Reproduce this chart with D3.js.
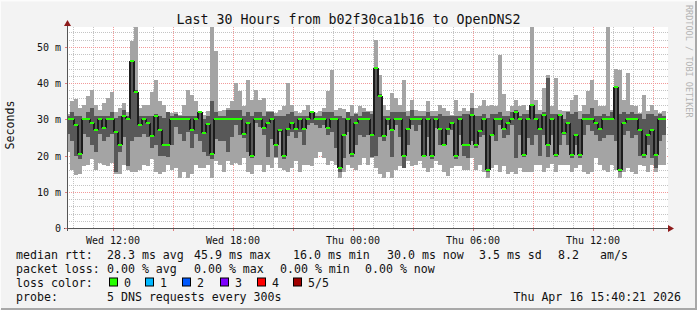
<!DOCTYPE html>
<html lang="en">
<head>
<meta charset="UTF-8">
<title>Last 30 Hours from b02f30ca1b16 to OpenDNS2</title>
<script src="https://d3js.org/d3.v7.min.js"></script>
<style>
    body { margin: 0; background: #fff; }
    svg { display: block; font-family: "DejaVu Sans Mono", monospace; }
    .legend text { font-size: 11.6px; fill: #111; }
    .tick-label { font-size: 10px; fill: #111; }
</style>
</head>
<body>
<svg id="chart" width="697" height="310"></svg>
<script>
// ---- data: 5 sorted DNS round trips per 12 min slot (ms) ----
const pMax = [
  31.5, 35, 35.5, 33, 34, 36.5, 38, 34, 32.5, 34.5, 36, 37.5, 32, 33, 34.5, 32, 51.5, 55.5, 33, 34, 34, 37.5, 41, 35, 34,
  32, 31.8, 32, 31.3, 34, 38, 36.6, 35, 32, 31.3, 32.2, 55.5, 48.8, 32.2, 32.7, 33, 35, 40, 37.7, 33.6, 41, 35.4, 38.1, 35.4, 35.9,
  32.2, 32.2, 31.8, 32.7, 33.6, 40, 34, 32.2, 31.8, 32.7, 34, 32.4, 31.8, 32.2, 33, 37.7, 43.7, 32.7, 33, 32.9, 32, 34, 31.8, 33.6, 33,
  32.2, 32.2, 52, 42.3, 34, 32.7, 37.3, 36, 34, 41, 32.2, 35.4, 32.7, 32.2, 32.4, 35, 32.2, 32.4, 34, 33, 32.4, 31.3, 35.4, 32.2, 33,
  32.2, 37.3, 33, 33.6, 35.4, 33.6, 34, 33.6, 47.9, 37, 32.2, 33.6, 35.4, 33.6, 34, 32.7, 55.5, 35.4, 32.7, 38.6, 42.3, 33.6, 41.4, 32.7, 32.2,
  32.2, 35.4, 36.8, 32.2, 34, 37.7, 41, 35.4, 33.6, 33.6, 55.5, 32.7, 44, 43.7, 35.4, 42.8, 34, 33.6, 31.8, 36.8, 32.2, 34, 32.7, 31.8, 32.2
];
const pHigh = [
  31, 32, 31, 31, 30.5, 32, 33, 31, 31, 31, 31, 32, 30.5, 31, 32.5, 31, 46, 38, 31, 31, 31, 31, 31.5, 31, 30.5,
  32, 31, 31.5, 31, 31, 31, 31, 31, 32, 30, 31, 35, 32, 31, 31, 32.5, 32.5, 32.5, 32.5, 31, 32, 31, 32, 32, 31,
  32, 32, 31, 31, 31, 31.5, 32, 31, 31, 31, 31, 32.4, 31, 31, 32, 32, 32, 31, 31, 30.5, 32, 31, 31.5, 31, 32,
  32, 31.5, 44.5, 37, 31, 31, 32, 32, 32, 32, 31, 32.5, 31, 31, 31, 32, 31, 31, 31.5, 31, 31, 31, 31, 31, 31.5,
  31.5, 33, 31, 31, 31.5, 30.5, 31.5, 31.5, 32, 31, 31, 32, 32.5, 31, 31.5, 31.5, 34, 31.5, 31.5, 32, 41.4, 31.5, 31.5, 31.5, 30,
  32, 31.5, 32, 30, 31.5, 31.5, 33, 31, 31, 31.5, 31, 32, 39, 31.5, 32, 31.5, 32, 31.5, 31.5, 30, 31.5, 31.5, 31, 31.5, 31
];
const pMedian = [
  30, 30, 28.5, 20.5, 30, 30, 29, 27, 30, 27.5, 30, 30, 26.5, 23, 31, 30, 46, 37.5, 28.5, 30, 29, 25.5, 31, 27, 23,
  23, 30, 30, 30, 30, 30, 27, 30, 32, 26.2, 28.7, 20.5, 30, 30, 30, 30, 30, 30, 30, 26, 29, 20, 30, 30, 27.5,
  28.9, 30, 23, 27, 19.8, 27.2, 28.9, 27.2, 30, 27.2, 30, 32, 30, 30, 30, 27.5, 30, 30, 16.5, 25.8, 30, 20.5, 28.9, 30, 30,
  30, 25.8, 44.2, 36.4, 25.3, 30, 27, 30, 30, 20, 27.2, 30, 30, 30, 20, 30, 20, 30, 27.2, 23, 27.2, 28.9, 20, 30, 23,
  23, 31.3, 23, 26.7, 30, 16.1, 25.8, 30, 30, 27.2, 28.9, 30, 32, 30, 20.2, 30, 34, 30, 27.2, 31.3, 23, 30, 20.2, 31.3, 26.2,
  28.9, 20.2, 25.8, 20.2, 30, 30, 30, 28.9, 27.2, 30, 30, 30, 39, 16.1, 28.9, 30, 30, 30, 27, 20.2, 25.8, 27, 20.2, 30, 30
];
const pLow = [
  26, 24, 20, 19, 26, 25, 23, 21, 26, 24, 25, 26, 15.5, 21, 25, 17, 24, 25, 25, 26, 25, 22, 23, 20, 20,
  19.5, 23, 28, 26, 24, 26.5, 22, 26, 24, 21, 20, 19, 24.5, 24, 24, 21, 25, 28.5, 25.8, 24.8, 21, 19.3, 29, 28, 25.8,
  19.5, 24.5, 19.5, 26.5, 19, 25.5, 26.5, 24.8, 26.5, 23, 28.5, 29, 28.5, 27.5, 28.5, 25.8, 26.5, 22, 15.5, 19.3, 26.5, 19.5, 23, 25.8, 25,
  25.8, 19.5, 20, 25, 24, 28.5, 19.5, 28.5, 25, 16.5, 23, 28.5, 26.7, 28.5, 19.5, 25, 19, 27.5, 23, 23, 25.8, 27, 19, 25.8, 20,
  19.3, 24, 22, 25, 25.8, 15.5, 25.5, 24, 28.5, 24.8, 25.8, 28.5, 19.3, 25.8, 19.5, 24.8, 23, 25.8, 20, 25.8, 19.5, 25.8, 19.5, 23, 25.8,
  23, 19.3, 23, 19.3, 25.8, 28.5, 26.7, 25.8, 24, 24.8, 25.8, 25.8, 24, 15.6, 25.8, 26.7, 24.8, 25.8, 20, 19.3, 23, 19.3, 16.5, 24, 25.8
];
const pMin = [
  21, 16, 14.5, 15, 17, 17.5, 19, 16, 18, 17.5, 17, 18, 15, 15, 17.5, 16, 15.5, 15.5, 16, 17.5, 17, 19, 15.5, 15, 15.5,
  17.5, 16, 16.5, 13.8, 15.6, 13.8, 15, 17.5, 16.5, 16.5, 17.5, 13.8, 18.5, 17.5, 15.6, 18.5, 17.5, 18, 17.5, 19.3, 15.6, 15, 17.5, 17.5, 15.6,
  17.5, 16.5, 19.3, 16.5, 16, 15.6, 16.5, 18.5, 15.6, 17.5, 17.5, 17, 19.3, 21, 19.3, 17.5, 18.5, 17.5, 13.8, 15.6, 17.5, 16.5, 16, 17.5, 19.3,
  17.5, 19.3, 16.5, 15, 13.8, 15.6, 13.8, 16, 17, 16.5, 18.5, 17, 17.5, 18.5, 16.5, 15.6, 16.5, 18.5, 17.5, 15.6, 14.3, 16.5, 17, 17, 16,
  16, 19.3, 16, 17.5, 15.6, 13.8, 16.5, 17.5, 15.6, 17, 14.8, 15.6, 15, 16.5, 15.6, 15.6, 15.6, 17.5, 17.5, 15.6, 16.5, 17.8, 15.6, 17.5, 17.5,
  17.5, 15.6, 16.5, 17.5, 15.6, 14.8, 15.6, 19.3, 17.5, 16, 15.6, 17.5, 16, 13.8, 15.6, 16.5, 15.6, 15, 17.5, 17, 15.6, 17.5, 15.6, 17.5, 17.5
];

const yTicks = [0, 10, 20, 30, 40, 50];
const yMaxValue = 55.5;
const startTime = new Date(2026, 3, 15, 9, 40, 21);
const endTime = new Date(2026, 3, 16, 15, 40, 21);
const stepMinutes = 12;

// legend texts
const titleText = "Last 30 Hours from b02f30ca1b16 to OpenDNS2";
const rttStats = ["28.3 ms avg", "45.9 ms max", "16.0 ms min", "30.0 ms now", "3.5 ms sd", "8.2", "am/s"];
const lossStats = ["0.00 % avg", "0.00 % max", "0.00 % min", "0.00 % now"];
const lossLabels = ["0", "1", "2", "3", "4", "5/5"];
const lossColors = ["#26ff00", "#00b8ff", "#0059ff", "#7e00ff", "#ff0000", "#a10000"];
const probeText = "5 DNS requests every 300s";
const stampText = "Thu Apr 16 15:40:21 2026";

// ---- layout ----
const W = 697, H = 310;
const plot = { left: 67, right: 668, top: 27, bottom: 228 };

const svg = d3.select("#chart");

// outer frame, rrdtool style
svg.append("rect").attr("width", W).attr("height", H).attr("fill", "#f3f3f3");
svg.append("path").attr("d", `M0,${H - 1}V0.5H${W - 1}`).attr("fill", "none")
    .attr("stroke", "#fcfcfc").attr("stroke-width", 2);
svg.append("path").attr("d", `M1,${H - 1}H${W - 1}V1`).attr("fill", "none")
    .attr("stroke", "#a8a8a8").attr("stroke-width", 2);

// plot canvas
svg.append("rect")
    .attr("x", plot.left).attr("y", plot.top)
    .attr("width", plot.right - plot.left).attr("height", plot.bottom - plot.top)
    .attr("fill", "#fff");

// scales
const x = d3.scaleTime().domain([startTime, endTime]).range([66, 666]);
const y = d3.scaleLinear().domain([0, yMaxValue]).range([plot.bottom, plot.top]);
const px = v => Math.round(v) + 0.5;

// grid lines (drawn under the smoke)
const grid = svg.append("g").attr("shape-rendering", "crispEdges");
// minor horizontal every 2 ms
grid.selectAll(".hmin")
    .data(d3.range(2, yMaxValue, 2).filter(v => v % 10 !== 0))
    .enter().append("line")
    .attr("x1", plot.left).attr("x2", plot.right)
    .attr("y1", d => px(y(d))).attr("y2", d => px(y(d)))
    .attr("stroke", "#c4c4c4").attr("stroke-dasharray", "1,1");
// minor vertical every hour
grid.selectAll(".vmin")
    .data(x.ticks(d3.timeHour.every(1)).filter(d => d.getHours() % 3 !== 0))
    .enter().append("line")
    .attr("x1", d => px(x(d))).attr("x2", d => px(x(d)))
    .attr("y1", plot.top).attr("y2", plot.bottom)
    .attr("stroke", "#c4c4c4").attr("stroke-dasharray", "1,1");
// major horizontal every 10 ms
grid.selectAll(".hmaj")
    .data(yTicks.filter(d => d > 0))
    .enter().append("line")
    .attr("x1", plot.left).attr("x2", plot.right)
    .attr("y1", d => px(y(d))).attr("y2", d => px(y(d)))
    .attr("stroke", "#f29a9a").attr("stroke-dasharray", "1,1");
// major vertical every 3 hours
const majorTimes = x.ticks(d3.timeHour.every(3));
grid.selectAll(".vmaj")
    .data(majorTimes)
    .enter().append("line")
    .attr("x1", d => px(x(d))).attr("x2", d => px(x(d)))
    .attr("y1", plot.top).attr("y2", plot.bottom)
    .attr("stroke", "#f29a9a").attr("stroke-dasharray", "1,1");

// smoke
svg.append("clipPath").attr("id", "plot-clip")
    .append("rect")
    .attr("x", plot.left).attr("y", plot.top)
    .attr("width", plot.right - plot.left).attr("height", plot.bottom - plot.top);

const samples = pMedian.map((m, i) => ({
    t0: d3.timeMinute.offset(startTime, i * stepMinutes),
    t1: d3.timeMinute.offset(startTime, (i + 1) * stepMinutes),
    max: pMax[i], high: pHigh[i], med: m, low: pLow[i], min: pMin[i]
}));

const g = svg.append("g").attr("clip-path", "url(#plot-clip)").attr("shape-rendering", "crispEdges");

// outer band: min .. max
g.selectAll(".outer").data(samples).enter().append("rect")
    .attr("x", d => Math.round(x(d.t0)))
    .attr("width", d => Math.round(x(d.t1)) - Math.round(x(d.t0)))
    .attr("y", d => Math.round(y(d.max)))
    .attr("height", d => Math.round(y(d.min)) - Math.round(y(d.max)))
    .attr("fill", "#a4a4a4");

// inner band: 2nd .. 4th ping
g.selectAll(".inner").data(samples).enter().append("rect")
    .attr("x", d => Math.round(x(d.t0)))
    .attr("width", d => Math.round(x(d.t1)) - Math.round(x(d.t0)))
    .attr("y", d => Math.round(y(d.high)))
    .attr("height", d => Math.max(1, Math.round(y(d.low)) - Math.round(y(d.high))))
    .attr("fill", "#585858");

// step connectors between medians
g.selectAll(".step").data(samples.slice(1)).enter().append("rect")
    .attr("x", d => Math.round(x(d.t0)) - 1)
    .attr("width", 2)
    .attr("y", (d, i) => Math.round(y(Math.max(d.med, samples[i].med))))
    .attr("height", (d, i) => Math.abs(Math.round(y(d.med)) - Math.round(y(samples[i].med))))
    .attr("fill", "#1c1c1c");

// median, coloured by loss (all 0 here)
g.selectAll(".med").data(samples).enter().append("rect")
    .attr("x", d => Math.round(x(d.t0)))
    .attr("width", d => Math.round(x(d.t1)) - Math.round(x(d.t0)))
    .attr("y", d => Math.round(y(d.med)) - 1)
    .attr("height", 2)
    .attr("fill", lossColors[0]);

// axes
const axisG = svg.append("g").attr("shape-rendering", "crispEdges");
axisG.append("line")
    .attr("x1", plot.left - 3).attr("x2", plot.right + 1)
    .attr("y1", plot.bottom + 0.5).attr("y2", plot.bottom + 0.5)
    .attr("stroke", "#555");
axisG.append("line")
    .attr("x1", plot.left + 0.5).attr("x2", plot.left + 0.5)
    .attr("y1", plot.bottom + 3).attr("y2", plot.top - 1)
    .attr("stroke", "#555");
// tick marks
axisG.selectAll(".xt").data(majorTimes).enter().append("line")
    .attr("x1", d => px(x(d))).attr("x2", d => px(x(d)))
    .attr("y1", plot.bottom + 1).attr("y2", plot.bottom + 3)
    .attr("stroke", "#e08080");
axisG.selectAll(".yt").data(yTicks).enter().append("line")
    .attr("x1", plot.left - 2).attr("x2", plot.left)
    .attr("y1", d => px(y(d))).attr("y2", d => px(y(d)))
    .attr("stroke", "#e08080");

// arrows
svg.append("path").attr("d", `M${plot.left - 3},${plot.top - 1}L${plot.left + 0.5},${plot.top - 7}L${plot.left + 4},${plot.top - 1}Z`)
    .attr("fill", "#8e1b1b");
svg.append("path").attr("d", `M${plot.right},${plot.bottom - 3}L${plot.right + 6},${plot.bottom + 0.5}L${plot.right},${plot.bottom + 4}Z`)
    .attr("fill", "#8e1b1b");

// y tick labels
const yAxis = d3.axisLeft(y).tickValues(yTicks).tickSize(0)
    .tickFormat(d => d === 0 ? "0" : d + " m");
svg.append("g")
    .attr("transform", `translate(${plot.left - 6},0)`)
    .call(yAxis)
    .call(a => a.select(".domain").remove())
    .call(a => a.selectAll("text").attr("class", "tick-label").attr("x", 0).attr("dy", "0.35em")
        .attr("font-family", "DejaVu Sans Mono").attr("font-size", 10).attr("fill", "#111"));

// x tick labels
const xAxis = d3.axisBottom(x).ticks(d3.timeHour.every(6)).tickSize(0)
    .tickFormat(d3.timeFormat("%a %H:%M"));
svg.append("g")
    .attr("transform", `translate(0,${plot.bottom})`)
    .call(xAxis)
    .call(a => a.select(".domain").remove())
    .call(a => a.selectAll("text").attr("class", "tick-label").attr("y", 9).attr("dy", "0.71em")
        .attr("font-family", "DejaVu Sans Mono").attr("font-size", 10).attr("fill", "#111"));

// title
svg.append("text")
    .attr("x", 348.5).attr("y", 23.5)
    .attr("text-anchor", "middle")
    .attr("font-size", 13.3).attr("fill", "#111")
    .text(titleText);

// y axis label
svg.append("text")
    .attr("transform", "translate(14,125) rotate(-90)")
    .attr("text-anchor", "middle")
    .attr("font-size", 11.6).attr("fill", "#111")
    .text("Seconds");

// watermark
svg.append("text")
    .attr("transform", "translate(686,5) rotate(90)")
    .attr("font-size", 8.5).attr("fill", "#b4b4b4")
    .text("RRDTOOL / TOBI OETIKER");

// legend
const legend = svg.append("g").attr("class", "legend");
const rowY = [258.5, 272.5, 286.5, 300.5];

legend.append("text").attr("x", 16).attr("y", rowY[0]).text("median rtt:");
const rttCols = [107, 194, 293, 387, 479, 558, 600];
rttStats.forEach((s, i) => legend.append("text").attr("x", rttCols[i]).attr("y", rowY[0]).text(s));

legend.append("text").attr("x", 16).attr("y", rowY[1]).text("packet loss:");
const lossCols = [107, 194, 280, 365];
lossStats.forEach((s, i) => legend.append("text").attr("x", lossCols[i]).attr("y", rowY[1]).text(s));

legend.append("text").attr("x", 16).attr("y", rowY[2]).text("loss color:");
const boxCols = [109, 145, 182, 220, 257, 293];
lossLabels.forEach((s, i) => {
    legend.append("rect")
        .attr("x", boxCols[i] + 0.5).attr("y", rowY[2] - 8.5)
        .attr("width", 8).attr("height", 8)
        .attr("fill", lossColors[i]).attr("stroke", "#000").attr("stroke-width", 1);
    legend.append("text").attr("x", boxCols[i] + 15).attr("y", rowY[2]).text(s);
});

legend.append("text").attr("x", 16).attr("y", rowY[3]).text("probe:");
legend.append("text").attr("x", 107).attr("y", rowY[3]).text(probeText);
legend.append("text").attr("x", 681).attr("y", rowY[3]).attr("text-anchor", "end").text(stampText);
</script>
</body>
</html>
